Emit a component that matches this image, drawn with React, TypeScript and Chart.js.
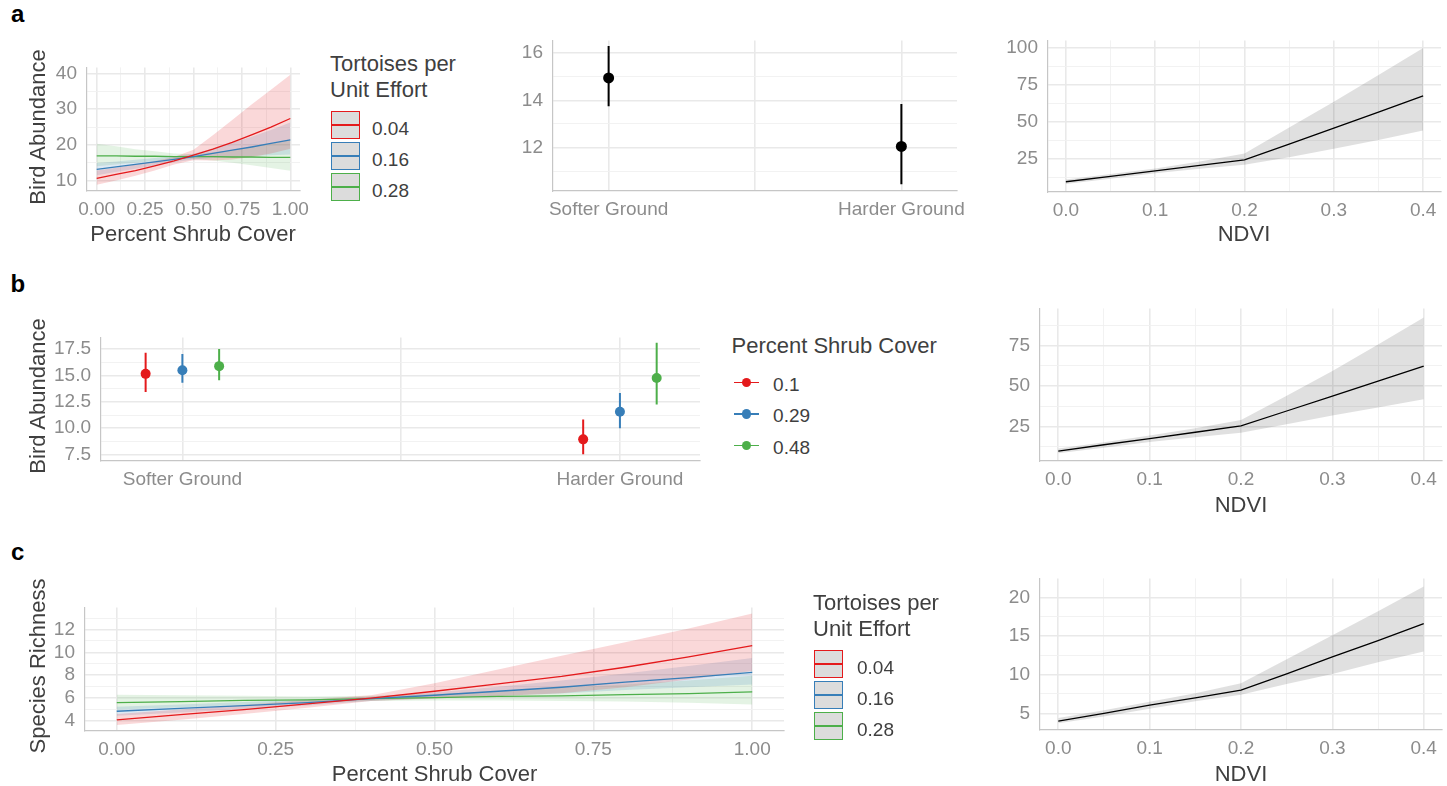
import React, { useEffect, useRef } from "react";
import { Chart, registerables } from "chart.js";

Chart.register(...registerables);

// ---------------- data ----------------
const shrubCover = [0, 0.1, 0.2, 0.3, 0.4, 0.5, 0.6, 0.7, 0.8, 0.9, 1.0];
const tortoiseLevels = ["0.04", "0.16", "0.28"];
const shrubLevels = ["0.1", "0.29", "0.48"];
const groundTypes = ["Softer Ground", "Harder Ground"];
const ndvi = [0, 0.05, 0.1, 0.15, 0.2, 0.25, 0.3, 0.35, 0.4];

// (a) bird abundance ~ shrub cover x tortoises
const abundFit004 = [10.6, 11.7, 12.8, 14.1, 15.5, 17.1, 18.8, 20.7, 22.8, 25.0, 27.4];
const abundLo004 = [8.8, 10.0, 11.3, 12.8, 14.5, 15.7, 15.6, 15.9, 16.6, 17.6, 18.9];
const abundHi004 = [12.8, 13.6, 14.5, 15.5, 16.6, 18.6, 22.7, 27.0, 31.3, 35.5, 39.7];
const abundFit016 = [13.1, 13.8, 14.5, 15.2, 15.9, 16.7, 17.6, 18.5, 19.4, 20.4, 21.4];
const abundLo016 = [11.5, 12.4, 13.3, 14.2, 15.1, 15.9, 16.3, 16.6, 16.9, 17.1, 17.3];
const abundHi016 = [14.9, 15.3, 15.8, 16.3, 16.8, 17.5, 19.0, 20.6, 22.3, 24.2, 26.3];
const abundFit028 = [16.9, 16.9, 16.8, 16.8, 16.7, 16.7, 16.7, 16.6, 16.6, 16.5, 16.5];
const abundLo028 = [14.0, 14.5, 15.0, 15.5, 15.9, 16.0, 15.6, 15.0, 14.3, 13.5, 12.7];
const abundHi028 = [20.3, 19.6, 18.8, 18.2, 17.6, 17.4, 17.9, 18.5, 19.3, 20.3, 21.4];

// (a) bird abundance ~ ground type
const groundEst = [14.95, 12.05];
const groundLo = [13.75, 10.45];
const groundHi = [16.3, 13.85];

// (a) bird abundance ~ NDVI
const abundNdviFit = [9.5, 13.1, 16.8, 20.5, 24.2, 34.9, 45.7, 56.5, 67.4];
const abundNdviLo = [8.0, 11.6, 15.2, 18.3, 21.0, 26.0, 31.7, 37.7, 44.0];
const abundNdviHi = [11.0, 14.7, 18.5, 23.2, 28.5, 46.0, 63.5, 81.5, 99.7];

// (b) bird abundance ~ ground type x shrub cover
const bEst01 = [15.15, 8.95];
const bLo01 = [13.42, 7.53];
const bHi01 = [17.14, 10.84];
const bEst029 = [15.49, 11.57];
const bLo029 = [14.3, 10.0];
const bHi029 = [17.02, 13.33];
const bEst048 = [15.88, 14.75];
const bLo048 = [14.54, 12.26];
const bHi048 = [17.5, 18.1];

// (b) bird abundance ~ NDVI
const bNdviFit = [9.9, 13.8, 17.6, 21.5, 25.4, 34.6, 43.8, 53.0, 62.2];
const bNdviLo = [8.5, 12.0, 15.5, 18.5, 21.2, 26.5, 31.8, 36.8, 41.8];
const bNdviHi = [11.5, 15.3, 19.5, 24.0, 29.0, 44.0, 59.3, 75.5, 92.2];

// (c) species richness ~ shrub cover x tortoises
const richFit004 = [4.1, 4.55, 5.0, 5.5, 6.0, 6.6, 7.25, 7.9, 8.7, 9.6, 10.6];
const richLo004 = [3.65, 4.1, 4.6, 5.15, 5.75, 5.97, 6.18, 6.43, 6.94, 7.62, 8.38];
const richHi004 = [4.6, 5.0, 5.4, 5.85, 6.25, 7.3, 8.5, 9.7, 10.9, 12.1, 13.4];
const richFit016 = [4.85, 5.1, 5.35, 5.6, 5.95, 6.25, 6.6, 6.95, 7.4, 7.8, 8.25];
const richLo016 = [4.45, 4.75, 5.05, 5.35, 5.75, 6.0, 6.2, 6.4, 6.7, 6.95, 7.2];
const richHi016 = [5.25, 5.45, 5.65, 5.85, 6.15, 6.5, 7.0, 7.55, 8.15, 8.8, 9.5];
const richFit028 = [5.6, 5.7, 5.8, 5.85, 5.95, 6.05, 6.15, 6.2, 6.3, 6.4, 6.55];
const richLo028 = [5.0, 5.2, 5.4, 5.6, 5.75, 5.8, 5.8, 5.75, 5.7, 5.6, 5.45];
const richHi028 = [6.3, 6.25, 6.2, 6.15, 6.2, 6.35, 6.6, 6.9, 7.2, 7.55, 7.95];

// (c) species richness ~ NDVI
const richNdviFit = [4.0, 5.0, 6.05, 7.0, 8.0, 10.1, 12.3, 14.4, 16.6];
const richNdviLo = [3.7, 4.6, 5.6, 6.55, 7.4, 8.8, 10.1, 11.6, 13.0];
const richNdviHi = [4.4, 5.4, 6.5, 7.6, 8.9, 12.0, 15.1, 18.2, 21.4];

// tick labels
const shrubTicks = [0, 0.25, 0.5, 0.75, 1];
const shrubTickLabels = ["0.00", "0.25", "0.50", "0.75", "1.00"];
const ndviTicks = [0, 0.1, 0.2, 0.3, 0.4];
const ndviTickLabels = ["0.0", "0.1", "0.2", "0.3", "0.4"];

// ---------------- styles ----------------
const FONT = "'Liberation Sans', Arial, Helvetica, sans-serif";
const TICK_COLOR = "#8c8c8c";
const TEXT_COLOR = "#3f3f3f";
const GRID_MAJOR = "#e9e9e9";
const GRID_MINOR = "#f1f1f1";
const AXIS_COLOR = "#c6c6c6";
const RED = "#E41A1C";
const BLUE = "#377EB8";
const GREEN = "#4DAF4A";
const RIB_RED = "rgba(228,26,28,0.17)";
const RIB_BLUE = "rgba(55,126,184,0.17)";
const RIB_GREEN = "rgba(77,175,74,0.15)";
const RIB_GREY = "rgba(0,0,0,0.12)";
const GROUP_COLORS = [RED, BLUE, GREEN];

const SP = { left: 70, top: 16, right: 30, bottom: 40 };

type AxisDef = { min: number; max: number; ticks: number[]; labels: string[]; major: boolean[] };

function axisDef(min: number, max: number, majors: number[], majorLabels: string[], minors: number[]): AxisDef {
  const all = [
    ...majors.map((v, i) => ({ v, l: majorLabels[i], m: true })),
    ...minors.map((v) => ({ v, l: "", m: false })),
  ]
    .filter((t) => t.v >= min && t.v <= max)
    .sort((a, b) => a.v - b.v);
  return { min, max, ticks: all.map((t) => t.v), labels: all.map((t) => t.l), major: all.map((t) => t.m) };
}

function scaleOptions(a: AxisDef, isX: boolean): any {
  return {
    type: "linear",
    min: a.min,
    max: a.max,
    afterBuildTicks: (s: any) => {
      s.ticks = a.ticks.map((v) => ({ value: v }));
    },
    afterFit: (s: any) => {
      if (isX) s.height = SP.bottom;
      else s.width = SP.left;
    },
    ticks: {
      autoSkip: false,
      maxRotation: 0,
      minRotation: 0,
      padding: isX ? 7 : 10,
      color: TICK_COLOR,
      font: { family: FONT, size: 19 },
      callback: (_v: any, i: number) => a.labels[i],
    },
    grid: {
      drawTicks: false,
      color: (c: any) => (a.major[c.index] ? GRID_MAJOR : GRID_MINOR),
      lineWidth: (c: any) => (a.major[c.index] ? 1.6 : 0.9),
    },
    border: { display: true, color: AXIS_COLOR, width: 1.2 },
  };
}

function pts(xs: number[], ys: number[]) {
  return xs.map((x, i) => ({ x, y: ys[i] }));
}
function lineDs(xs: number[], ys: number[], color: string, width = 1.3) {
  return { data: pts(xs, ys), borderColor: color, borderWidth: width, pointRadius: 0, fill: false };
}
function ribbonDs(xs: number[], lo: number[], hi: number[], color: string) {
  return [
    { data: pts(xs, hi), borderWidth: 0, borderColor: "transparent", pointRadius: 0, fill: "+1", backgroundColor: color },
    { data: pts(xs, lo), borderWidth: 0, borderColor: "transparent", pointRadius: 0, fill: false },
  ];
}
function pointRangeDs(xs: number[], est: number[], lo: number[], hi: number[], color: string, r: number) {
  const bars = xs.map((x, i) => ({
    data: [{ x, y: lo[i] }, { x, y: hi[i] }],
    borderColor: color,
    borderWidth: 2,
    pointRadius: 0,
    fill: false,
  }));
  const points = {
    data: pts(xs, est),
    showLine: false,
    pointRadius: r,
    pointBorderWidth: 0,
    pointBackgroundColor: color,
    borderColor: color,
    fill: false,
  };
  return { points, bars };
}

type PanelProps = { L: number; R: number; T: number; B: number; x: AxisDef; y: AxisDef; datasets: () => any[] };

function Panel(p: PanelProps) {
  const ref = useRef<HTMLCanvasElement | null>(null);
  const cx = p.L - SP.left;
  const cy = p.T - SP.top;
  const cw = Math.round(p.R - cx + SP.right);
  const ch = Math.round(p.B - cy + SP.bottom);
  useEffect(() => {
    const chart = new Chart(ref.current as HTMLCanvasElement, {
      type: "line",
      data: { datasets: p.datasets() },
      options: {
        responsive: false,
        maintainAspectRatio: false,
        animation: false,
        devicePixelRatio: 1,
        layout: { padding: { left: 0, top: SP.top, right: SP.right, bottom: 0 } },
        plugins: { legend: { display: false }, tooltip: { enabled: false } },
        elements: { line: { tension: 0 } },
        scales: { x: scaleOptions(p.x, true), y: scaleOptions(p.y, false) },
      } as any,
    });
    return () => chart.destroy();
  }, []);
  return (
    <canvas
      ref={ref}
      width={cw}
      height={ch}
      style={{ position: "absolute", left: cx, top: cy, width: cw, height: ch }}
    />
  );
}

// ---------------- text helpers ----------------
function CText(props: { x: number; y: number; size: number; children: any; color?: string; rotate?: boolean; bold?: boolean }) {
  return (
    <div
      style={{
        position: "absolute",
        left: props.x,
        top: props.y,
        transform: `translate(-50%, -50%)${props.rotate ? " rotate(-90deg)" : ""}`,
        fontFamily: FONT,
        fontSize: props.size,
        lineHeight: 1,
        whiteSpace: "nowrap",
        color: props.color || TEXT_COLOR,
        fontWeight: props.bold ? 700 : 400,
      }}
    >
      {props.children}
    </div>
  );
}
function LText(props: { x: number; y: number; size: number; children: any; color?: string; bold?: boolean }) {
  return (
    <div
      style={{
        position: "absolute",
        left: props.x,
        top: props.y,
        transform: "translate(0, -50%)",
        fontFamily: FONT,
        fontSize: props.size,
        lineHeight: 1,
        whiteSpace: "nowrap",
        color: props.color || TEXT_COLOR,
        fontWeight: props.bold ? 700 : 400,
      }}
    >
      {props.children}
    </div>
  );
}
function Letter(props: { x: number; top: number; children: any }) {
  return (
    <div
      style={{
        position: "absolute",
        left: props.x,
        top: props.top,
        fontFamily: FONT,
        fontSize: 24,
        lineHeight: 1,
        fontWeight: 700,
        color: "#000",
      }}
    >
      {props.children}
    </div>
  );
}

function RibbonLegend(props: { x: number; y: number; labelX: number; title: string[] }) {
  const items: any[] = [];
  props.title.forEach((t, i) =>
    items.push(
      <LText key={"t" + i} x={props.x - 1} y={props.y + i * 25.7} size={22}>
        {t}
      </LText>
    )
  );
  tortoiseLevels.forEach((lab, i) => {
    const top = props.y + 47 + i * 31;
    items.push(
      <div
        key={"k" + i}
        style={{
          position: "absolute",
          left: props.x,
          top,
          width: 29,
          height: 28,
          boxSizing: "border-box",
          background: "#dcdcdc",
          border: `1.5px solid ${GROUP_COLORS[i]}`,
        }}
      />
    );
    items.push(
      <div
        key={"l" + i}
        style={{ position: "absolute", left: props.x + 1, top: top + 13.3, width: 27, height: 1.4, background: GROUP_COLORS[i] }}
      />
    );
    items.push(
      <LText key={"v" + i} x={props.labelX} y={top + 16.5} size={19}>
        {lab}
      </LText>
    );
  });
  return <>{items}</>;
}

function PointLegend(props: { x: number; y: number }) {
  const items: any[] = [];
  items.push(
    <LText key="t" x={props.x} y={props.y} size={22}>
      Percent Shrub Cover
    </LText>
  );
  shrubLevels.forEach((lab, i) => {
    const cy = props.y + 36.8 + i * 31.7;
    items.push(
      <div key={"ln" + i} style={{ position: "absolute", left: props.x + 2.5, top: cy - 0.8, width: 25, height: 1.6, background: GROUP_COLORS[i] }} />
    );
    items.push(
      <div
        key={"pt" + i}
        style={{ position: "absolute", left: props.x + 15 - 4.7, top: cy - 4.7, width: 9.4, height: 9.4, borderRadius: "50%", background: GROUP_COLORS[i] }}
      />
    );
    items.push(
      <LText key={"v" + i} x={props.x + 41.6} y={cy + 1.3} size={19}>
        {lab}
      </LText>
    );
  });
  return <>{items}</>;
}

// ---------------- axes ----------------
const xShrub = axisDef(-0.05, 1.05, shrubTicks, shrubTickLabels, [0.125, 0.375, 0.625, 0.875]);
const xNdvi = axisDef(-0.02, 0.42, ndviTicks, ndviTickLabels, [0.05, 0.15, 0.25, 0.35]);
const xGroundA = axisDef(0.81, 2.19, [1, 1.5, 2], [groundTypes[0], "", groundTypes[1]], []);
const xGroundB = axisDef(0.814, 2.183, [1, 1.5, 2], [groundTypes[0], "", groundTypes[1]], []);

const yA1 = axisDef(7.05, 41.75, [10, 20, 30, 40], ["10", "20", "30", "40"], [15, 25, 35]);
const yA2 = axisDef(10.16, 16.54, [12, 14, 16], ["12", "14", "16"], [11, 13, 15]);
const yA3 = axisDef(2.6, 104.8, [25, 50, 75, 100], ["25", "50", "75", "100"], [12.5, 37.5, 62.5, 87.5]);
const yB1 = axisDef(6.9, 18.6, [7.5, 10, 12.5, 15, 17.5], ["7.5", "10.0", "12.5", "15.0", "17.5"], [8.75, 11.25, 13.75, 16.25]);
const yB2 = axisDef(3.8, 97.8, [25, 50, 75], ["25", "50", "75"], [12.5, 37.5, 62.5, 87.5]);
const yC1 = axisDef(3.12, 13.94, [4, 6, 8, 10, 12], ["4", "6", "8", "10", "12"], [5, 7, 9, 11, 13]);
const yC2 = axisDef(2.84, 22.46, [5, 10, 15, 20], ["5", "10", "15", "20"], [7.5, 12.5, 17.5]);

const DODGE = 0.084;

function shrubPanelDatasets(fits: number[][], los: number[][], his: number[][]) {
  const ribCols = [RIB_RED, RIB_BLUE, RIB_GREEN];
  const lines = fits.map((f, i) => lineDs(shrubCover, f, GROUP_COLORS[i], 1.3));
  const ribs = fits.flatMap((_f, i) => ribbonDs(shrubCover, los[i], his[i], ribCols[i]));
  return [...lines, ...ribs];
}

function ndviDatasets(fit: number[], lo: number[], hi: number[]) {
  return [lineDs(ndvi, fit, "#000000", 1.3), ...ribbonDs(ndvi, lo, hi, RIB_GREY)];
}

export default function App() {
  const groundX = groundTypes.map((_g, i) => i + 1);
  return (
    <div
      style={{
        position: "absolute",
        left: 0,
        top: 0,
        width: 1447,
        height: 786,
        overflow: "hidden",
        background: "#ffffff",
      }}
    >
      {/* Row a */}
      <Panel
        L={87}
        R={300}
        T={62}
        B={191}
        x={xShrub}
        y={yA1}
        datasets={() =>
          shrubPanelDatasets(
            [abundFit004, abundFit016, abundFit028],
            [abundLo004, abundLo016, abundLo028],
            [abundHi004, abundHi016, abundHi028]
          )
        }
      />
      <Panel
        L={553}
        R={957}
        T={35}
        B={191}
        x={xGroundA}
        y={yA2}
        datasets={() => {
          const pr = pointRangeDs(groundX, groundEst, groundLo, groundHi, "#000000", 5.5);
          return [pr.points, ...pr.bars];
        }}
      />
      <Panel L={1048} R={1441} T={34.5} B={191} x={xNdvi} y={yA3} datasets={() => ndviDatasets(abundNdviFit, abundNdviLo, abundNdviHi)} />

      {/* Row b */}
      <Panel
        L={101.3}
        R={700}
        T={331.7}
        B={461}
        x={xGroundB}
        y={yB1}
        datasets={() => {
          const ests = [bEst01, bEst029, bEst048];
          const los = [bLo01, bLo029, bLo048];
          const his = [bHi01, bHi029, bHi048];
          const pointsDs: any[] = [];
          const barsDs: any[] = [];
          ests.forEach((e, g) => {
            const xs = groundX.map((x) => x + (g - 1) * DODGE);
            const pr = pointRangeDs(xs, e, los[g], his[g], GROUP_COLORS[g], 5);
            pointsDs.push(pr.points);
            barsDs.push(...pr.bars);
          });
          return [...pointsDs, ...barsDs];
        }}
      />
      <Panel L={1039.7} R={1442} T={303.3} B={461.5} x={xNdvi} y={yB2} datasets={() => ndviDatasets(bNdviFit, bNdviLo, bNdviHi)} />

      {/* Row c */}
      <Panel
        L={85}
        R={784}
        T={602}
        B={730.5}
        x={xShrub}
        y={yC1}
        datasets={() =>
          shrubPanelDatasets(
            [richFit004, richFit016, richFit028],
            [richLo004, richLo016, richLo028],
            [richHi004, richHi016, richHi028]
          )
        }
      />
      <Panel L={1039.7} R={1442} T={573} B={730} x={xNdvi} y={yC2} datasets={() => ndviDatasets(richNdviFit, richNdviLo, richNdviHi)} />

      {/* panel letters */}
      <Letter x={11} top={2.4}>a</Letter>
      <Letter x={10.5} top={272.4}>b</Letter>
      <Letter x={11} top={540.4}>c</Letter>

      {/* axis titles */}
      <CText x={38} y={127} size={22} rotate>Bird Abundance</CText>
      <CText x={193} y={234} size={22}>Percent Shrub Cover</CText>
      <CText x={1244} y={234} size={22}>NDVI</CText>

      <CText x={38} y={396} size={22} rotate>Bird Abundance</CText>
      <CText x={1241} y={505} size={22}>NDVI</CText>

      <CText x={38} y={666} size={22} rotate>Species Richness</CText>
      <CText x={434.5} y={774} size={22}>Percent Shrub Cover</CText>
      <CText x={1241} y={774} size={22}>NDVI</CText>

      {/* legends */}
      <RibbonLegend x={331} y={64} labelX={372} title={["Tortoises per", "Unit Effort"]} />
      <PointLegend x={731.5} y={345.5} />
      <RibbonLegend x={814} y={603} labelX={857} title={["Tortoises per", "Unit Effort"]} />
    </div>
  );
}
